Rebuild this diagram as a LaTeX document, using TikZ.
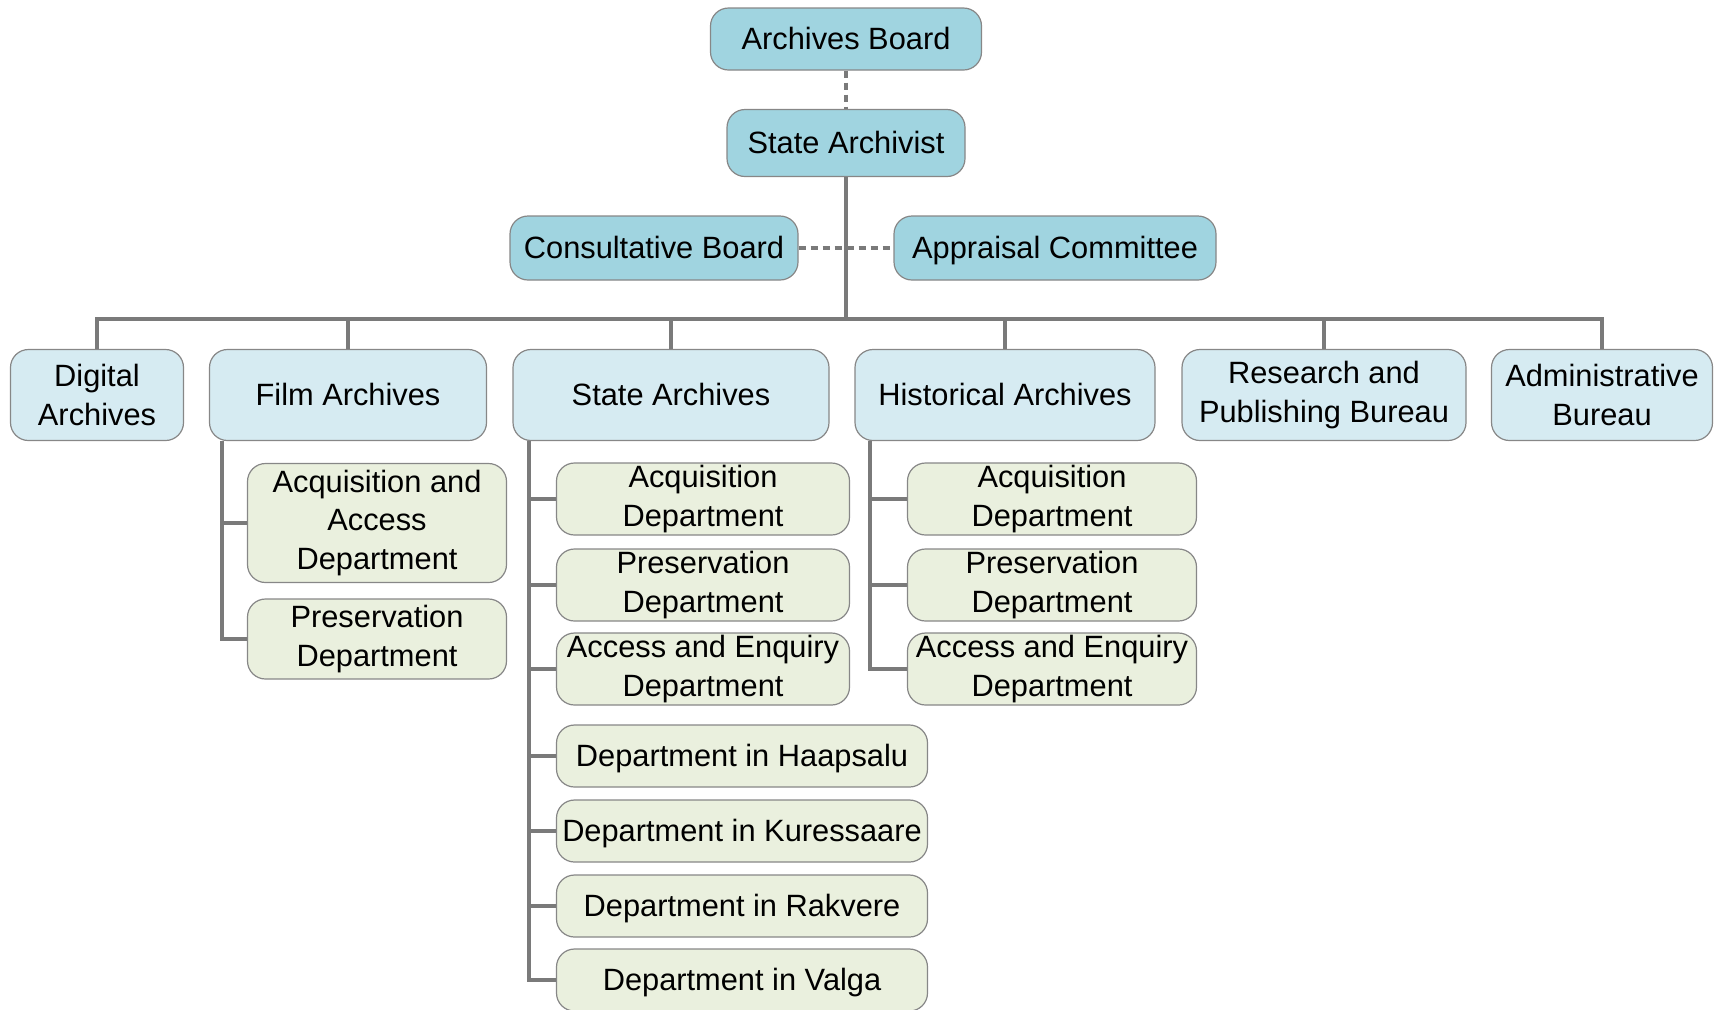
\documentclass[tikz,border=0pt]{standalone}
\usepackage{fontspec}
\setmainfont{Liberation Sans}
\usetikzlibrary{positioning}
\definecolor{topblue}{RGB}{160,212,224}
\definecolor{unitblue}{RGB}{214,235,242}
\definecolor{deptgreen}{RGB}{234,240,222}
\definecolor{boxline}{RGB}{135,135,135}
\definecolor{linkgray}{RGB}{122,122,122}
\tikzset{%
  box/.style={draw=boxline, line width=0.6pt, rounded corners=9pt, align=center,
    inner sep=0pt, font=\fontsize{15.4}{19.2}\selectfont},
  oneline/.style={text height=11.2pt, text depth=0.3pt},% keeps baselines level
  head/.style={box, oneline, fill=topblue},% board level
  unit/.style={box, fill=unitblue, minimum height=45.5pt},% archives / bureaus
  dept/.style={box, fill=deptgreen},% departments
  link/.style={draw=linkgray, line width=2pt},
  advisory/.style={draw=linkgray, line width=1.6pt, dash pattern=on 3.5pt off 2.5pt}
}

\begin{document}
\begin{tikzpicture}[x=0.5pt, y=-0.5pt]
\useasboundingbox (0,0) rectangle (1722,1009);

\node[head, minimum width=135.5pt, minimum height=31pt] (board) at (846, 39) {Archives Board};
\node[head, minimum width=119pt, minimum height=33.5pt] (sa) at (846, 143) {State Archivist};
\node[head, minimum width=144pt, minimum height=32pt] (cons) at (654, 248) {Consultative Board};
\node[head, minimum width=161pt, minimum height=32pt] (appr) at (1055, 248) {Appraisal Committee};

\node[unit, minimum width=86.5pt] (digital) at (97, 395) {Digital\\Archives};
\node[unit, oneline, minimum width=138.5pt] (film) at (348, 395) {Film Archives};
\node[unit, oneline, minimum width=158pt] (state) at (671, 395) {State Archives};
\node[unit, oneline, minimum width=150pt] (hist) at (1005, 395) {Historical Archives};
\node[unit, minimum width=142pt] (research) at (1324, 395) {Research and\\Publishing Bureau};
\node[unit, minimum width=110.5pt] (admin) at (1602, 395) {Administrative\\Bureau};

% film archives
\node[dept, minimum width=129.5pt, minimum height=59.5pt] (f-acq) at (377, 523) {Acquisition and\\Access\\Department};
\node[dept, minimum width=129.5pt, minimum height=40pt] (f-pres) at (377, 639) {Preservation\\Department};

% state archives
\node[dept, minimum width=146.5pt, minimum height=36pt] (s-acq) at (703, 499) {Acquisition\\Department};
\node[dept, minimum width=146.5pt, minimum height=36pt] (s-pres) at (703, 585) {Preservation\\Department};
\node[dept, minimum width=146.5pt, minimum height=36pt] (s-acc) at (703, 669) {Access and Enquiry\\Department};
\node[dept, oneline, minimum width=185.5pt, minimum height=31pt] (s-haa) at (742, 756) {Department in Haapsalu};
\node[dept, oneline, minimum width=185.5pt, minimum height=31pt] (s-kur) at (742, 831) {Department in Kuressaare};
\node[dept, oneline, minimum width=185.5pt, minimum height=31pt] (s-rak) at (742, 906) {Department in Rakvere};
\node[dept, oneline, minimum width=185.5pt, minimum height=31pt] (s-val) at (742, 980) {Department in Valga};

% historical archives
\node[dept, minimum width=144.5pt, minimum height=36pt] (h-acq) at (1052, 499) {Acquisition\\Department};
\node[dept, minimum width=144.5pt, minimum height=36pt] (h-pres) at (1052, 585) {Preservation\\Department};
\node[dept, minimum width=144.5pt, minimum height=36pt] (h-acc) at (1052, 669) {Access and Enquiry\\Department};

\coordinate (bus) at (846, 318.5);

\draw[advisory] (board.south) -- (sa.north);
\draw[advisory] (cons.east) -- (appr.west);
\draw[link] (sa.south) -- (bus);
\draw[link] (digital.north) |- (bus) -| (admin.north);
\draw[link] (film.north) -- (film.north |- bus);
\draw[link] (state.north) -- (state.north |- bus);
\draw[link] (hist.north) -- (hist.north |- bus);
\draw[link] (research.north) -- (research.north |- bus);

\draw[link] ([xshift=6.5pt]film.south west) |- (f-acq.west);
\draw[link] ([xshift=6.5pt]film.south west) |- (f-pres.west);

\draw[link] ([xshift=8.5pt]state.south west) |- (s-acq.west);
\draw[link] ([xshift=8.5pt]state.south west) |- (s-pres.west);
\draw[link] ([xshift=8.5pt]state.south west) |- (s-acc.west);
\draw[link] ([xshift=8.5pt]state.south west) |- (s-haa.west);
\draw[link] ([xshift=8.5pt]state.south west) |- (s-kur.west);
\draw[link] ([xshift=8.5pt]state.south west) |- (s-rak.west);
\draw[link] ([xshift=8.5pt]state.south west) |- (s-val.west);

\draw[link] ([xshift=8pt]hist.south west) |- (h-acq.west);
\draw[link] ([xshift=8pt]hist.south west) |- (h-pres.west);
\draw[link] ([xshift=8pt]hist.south west) |- (h-acc.west);

\end{tikzpicture}
\end{document}
